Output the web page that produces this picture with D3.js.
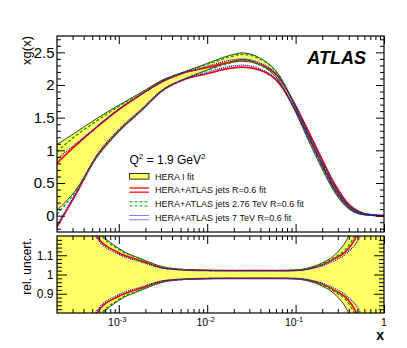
<!DOCTYPE html>
<html>
<head>
<meta charset="utf-8">
<script src="https://cdn.jsdelivr.net/npm/d3@7"></script>
<style>
  body { margin: 0; background: #fff; }
  svg { display: block; font-family: "Liberation Sans", Arial, Helvetica, sans-serif; }
</style>
</head>
<body>
<div id="chart"></div>
<script>
// ── Data ───────────────────────────────────────────────────────────────────────

// log10(x) sample points
const logX = [-3.7, -3.5, -3.25, -3.0, -2.75, -2.5, -2.25, -2.0, -1.75, -1.6, -1.4, -1.2, -1.0, -0.85, -0.7, -0.55, -0.4, -0.25, -0.1, 0];

// central xg(x) and relative uncertainty (half width) for each fit
const heraXg   = [0.585, 0.815, 1.19, 1.49, 1.74, 2.0, 2.15, 2.28, 2.40, 2.44, 2.36, 2.13, 1.62, 1.18, 0.76, 0.38, 0.13, 0.03, 0.004, 0];
const heraUnc  = [0.86, 0.55, 0.25, 0.135, 0.082, 0.04, 0.026, 0.022, 0.021, 0.021, 0.021, 0.021, 0.023, 0.035, 0.06, 0.105, 0.2, 0.4, 0.8, 1.5];

const jetsXg   = [0.315, 0.675, 1.13, 1.46, 1.73, 1.99, 2.14, 2.22, 2.30, 2.32, 2.27, 2.09, 1.65, 1.24, 0.82, 0.43, 0.155, 0.036, 0.005, 0];
const jetsUnc  = [1.55, 0.57, 0.2, 0.113, 0.072, 0.034, 0.024, 0.021, 0.02, 0.02, 0.02, 0.02, 0.021, 0.03, 0.05, 0.085, 0.135, 0.27, 0.6, 1.2];

const jets276Xg  = [0.50, 0.78, 1.17, 1.48, 1.74, 2.0, 2.15, 2.27, 2.38, 2.42, 2.35, 2.13, 1.63, 1.20, 0.78, 0.40, 0.14, 0.032, 0.004, 0];
const jets276Unc = [0.96, 0.55, 0.24, 0.13, 0.08, 0.038, 0.025, 0.021, 0.02, 0.02, 0.02, 0.02, 0.022, 0.032, 0.055, 0.092, 0.15, 0.3, 0.65, 1.3];

const jets7Xg  = [0.36, 0.70, 1.14, 1.47, 1.735, 1.995, 2.145, 2.24, 2.33, 2.35, 2.29, 2.10, 1.64, 1.22, 0.80, 0.41, 0.145, 0.034, 0.005, 0];
const jets7Unc = [1.4, 0.55, 0.19, 0.105, 0.066, 0.033, 0.024, 0.021, 0.02, 0.02, 0.02, 0.02, 0.021, 0.028, 0.045, 0.075, 0.12, 0.22, 0.5, 1.0];

const legendLabels = ["HERA I fit", "HERA+ATLAS jets R=0.6 fit", "HERA+ATLAS jets 2.76 TeV R=0.6 fit", "HERA+ATLAS jets 7 TeV R=0.6 fit"];

const xMajorTicks = [1e-3, 1e-2, 1e-1, 1];
const xTickExps   = ["-3", "-2", "-1", null];
const yTopTicks   = [0, 0.5, 1, 1.5, 2, 2.5];
const yTopLabels  = ["0", "0.5", "1", "1.5", "2", "2.5"];
const yBotTicks   = [0.9, 1, 1.1];
const yBotLabels  = ["0.9", "1", "1.1"];

// ── Layout ─────────────────────────────────────────────────────────────────────

const W = 407, H = 348;
const L = 57, R = 384;
const topT = 36, topB = 232, botT = 236, botB = 313;

const svg = d3.select("#chart").append("svg")
    .attr("width", W).attr("height", H)
    .attr("viewBox", `0 0 ${W} ${H}`);

const x = d3.scaleLog().domain([2e-4, 1]).range([L, R]);
const yTop = d3.scaleLinear().domain([-0.25, 2.75]).range([topB, topT]);
const yBot = d3.scaleLinear().domain([0.8, 1.2]).range([botB, botT]);

const xs = logX.map(l => Math.pow(10, l));

const defs = svg.append("defs");
defs.append("clipPath").attr("id", "clip-top")
    .append("rect").attr("x", L).attr("y", topT).attr("width", R - L).attr("height", topB - topT);
defs.append("clipPath").attr("id", "clip-bot")
    .append("rect").attr("x", L).attr("y", botT).attr("width", R - L).attr("height", botB - botT);

const fits = [
    { xg: jetsXg,    unc: jetsUnc,    color: "#ff0000", dash: null,  width: 1.6 },
    { xg: jets276Xg, unc: jets276Unc, color: "#00a000", dash: "3,2", width: 1.3 },
    { xg: jets7Xg,   unc: jets7Unc,   color: "#0000ff", dash: "1,1", width: 1.3 }
];

function edges(xg, unc, sign) { return xg.map((c, i) => c * (1 + sign * unc[i])); }
function relEdges(unc, sign) { return unc.map(u => 1 + sign * u); }

// ── Panels ─────────────────────────────────────────────────────────────────────

function drawPanel(yScale, clipId, valuesFor) {
    const g = svg.append("g").attr("clip-path", `url(#${clipId})`);
    const line = d3.line()
        .x((d, i) => x(xs[i]))
        .y(d => yScale(d))
        .curve(d3.curveMonotoneX);
    const area = d3.area()
        .x((d, i) => x(xs[i]))
        .y0(d => yScale(d[0]))
        .y1(d => yScale(d[1]))
        .curve(d3.curveMonotoneX);

    const hLo = valuesFor(heraXg, heraUnc, -1), hHi = valuesFor(heraXg, heraUnc, 1);
    g.append("path")
        .attr("d", area(hLo.map((v, i) => [v, hHi[i]])))
        .attr("fill", "#ffff66");
    [hLo, hHi].forEach(arr => {
        g.append("path").attr("d", line(arr))
            .attr("fill", "none").attr("stroke", "#000").attr("stroke-width", 0.8);
    });

    fits.forEach(f => {
        [-1, 1].forEach(s => {
            g.append("path").attr("d", line(valuesFor(f.xg, f.unc, s)))
                .attr("fill", "none")
                .attr("stroke", f.color)
                .attr("stroke-width", f.width)
                .attr("stroke-dasharray", f.dash);
        });
    });
}

drawPanel(yTop, "clip-top", (xg, unc, s) => edges(xg, unc, s));
drawPanel(yBot, "clip-bot", (xg, unc, s) => relEdges(unc, s));

// ── Axes: inward ticks on all four sides ──────────────────────────────────────

const xMinor = [];
for (let d = -4; d <= -1; d++) {
    for (let k = 2; k <= 9; k++) {
        const v = k * Math.pow(10, d);
        if (v > 2e-4 * 1.001 && v < 1) xMinor.push(v);
    }
}

function tickGroup(axis, tx, ty) {
    svg.append("g")
        .attr("transform", `translate(${tx},${ty})`)
        .call(axis)
        .call(g => g.select(".domain").remove())
        .call(g => g.selectAll("text").remove())
        .call(g => g.selectAll("line").attr("stroke", "#000").attr("stroke-width", 1));
}

function xTicks(top, bottom, majorLen, minorLen) {
    tickGroup(d3.axisTop(x).tickValues(xMajorTicks).tickSize(majorLen), 0, bottom);
    tickGroup(d3.axisTop(x).tickValues(xMinor).tickSize(minorLen), 0, bottom);
    tickGroup(d3.axisBottom(x).tickValues(xMajorTicks).tickSize(majorLen), 0, top);
    tickGroup(d3.axisBottom(x).tickValues(xMinor).tickSize(minorLen), 0, top);
}

function yTicks(y, major, minor, majorLen, minorLen) {
    tickGroup(d3.axisRight(y).tickValues(major).tickSize(majorLen), L, 0);
    tickGroup(d3.axisRight(y).tickValues(minor).tickSize(minorLen), L, 0);
    tickGroup(d3.axisLeft(y).tickValues(major).tickSize(majorLen), R, 0);
    tickGroup(d3.axisLeft(y).tickValues(minor).tickSize(minorLen), R, 0);
}

xTicks(topT, topB, 8, 4);
xTicks(botT, botB, 8, 4);
yTicks(yTop, yTopTicks, d3.range(-0.2, 2.75, 0.1).filter(v => Math.abs(v * 2 - Math.round(v * 2)) > 1e-6), 8, 4);
yTicks(yBot, yBotTicks, d3.range(0.82, 1.2, 0.02).filter(v => Math.abs(v * 10 - Math.round(v * 10)) > 1e-6), 10, 5);

// frames
[[topT, topB], [botT, botB]].forEach(([t, b]) => {
    svg.append("rect")
        .attr("x", L).attr("y", t).attr("width", R - L).attr("height", b - t)
        .attr("fill", "none").attr("stroke", "#000").attr("stroke-width", 1.2);
});

// ── Tick labels ────────────────────────────────────────────────────────────────

svg.append("g").selectAll("text").data(yTopTicks).enter().append("text")
    .attr("x", 54.5).attr("y", d => yTop(d)).attr("dy", "0.36em")
    .attr("text-anchor", "end").attr("font-size", 15)
    .text((d, i) => yTopLabels[i]);

svg.append("g").selectAll("text").data(yBotTicks).enter().append("text")
    .attr("x", 53.5).attr("y", d => yBot(d)).attr("dy", "0.36em")
    .attr("text-anchor", "end").attr("font-size", 12)
    .text((d, i) => yBotLabels[i]);

xMajorTicks.forEach((v, i) => {
    const t = svg.append("text")
        .attr("x", x(v) - (xTickExps[i] ? 1.5 : 0)).attr("y", 326)
        .attr("text-anchor", "middle").attr("font-size", 10.5);
    if (xTickExps[i]) {
        t.append("tspan").text("10");
        t.append("tspan").attr("dy", -4.5).attr("font-size", 7.5).text(xTickExps[i]);
    } else {
        t.text("1");
    }
});

// ── Axis titles ────────────────────────────────────────────────────────────────

svg.append("text")
    .attr("transform", "translate(31,36) rotate(-90)")
    .attr("text-anchor", "end").attr("font-size", 13)
    .text("xg(x)");

svg.append("text")
    .attr("transform", "translate(31,238) rotate(-90)")
    .attr("text-anchor", "end").attr("font-size", 12)
    .text("rel. uncert.");

svg.append("text")
    .attr("x", 384).attr("y", 340)
    .attr("text-anchor", "end").attr("font-size", 14).attr("font-weight", "bold")
    .text("x");

svg.append("text")
    .attr("x", 366).attr("y", 64)
    .attr("text-anchor", "end").attr("font-size", 18)
    .attr("font-weight", "bold").attr("font-style", "italic")
    .text("ATLAS");

// ── Legend ─────────────────────────────────────────────────────────────────────

const q = svg.append("text").attr("x", 129.5).attr("y", 164).attr("font-size", 12);
q.append("tspan").text("Q");
q.append("tspan").attr("dy", -5).attr("font-size", 8).text("2");
q.append("tspan").attr("dy", 5).text(" = 1.9 GeV");
q.append("tspan").attr("dy", -5).attr("font-size", 8).text("2");

const legendStyles = [
    { fill: "#ffff66", color: "#000", dash: null, width: 0.8 },
    fits[0], fits[1], fits[2]
];
const legendY = d3.scalePoint().domain(d3.range(legendLabels.length)).range([176.3, 217.6]);

legendLabels.forEach((label, i) => {
    const cy = legendY(i);
    const st = legendStyles[i];
    if (i === 0) {
        svg.append("rect")
            .attr("x", 129.5).attr("y", cy - 2.8).attr("width", 19.5).attr("height", 5.6)
            .attr("fill", st.fill).attr("stroke", "#000").attr("stroke-width", 0.8);
    } else {
        [-2.1, 2.1].forEach(o => {
            svg.append("line")
                .attr("x1", 129.5).attr("x2", 149).attr("y1", cy + o).attr("y2", cy + o)
                .attr("stroke", st.color).attr("stroke-width", st.width * 0.8)
                .attr("stroke-dasharray", st.dash);
        });
    }
    svg.append("text")
        .attr("x", 155).attr("y", cy + 3.3)
        .attr("font-size", 9).attr("fill", "#111")
        .text(label);
});
</script>
</body>
</html>
